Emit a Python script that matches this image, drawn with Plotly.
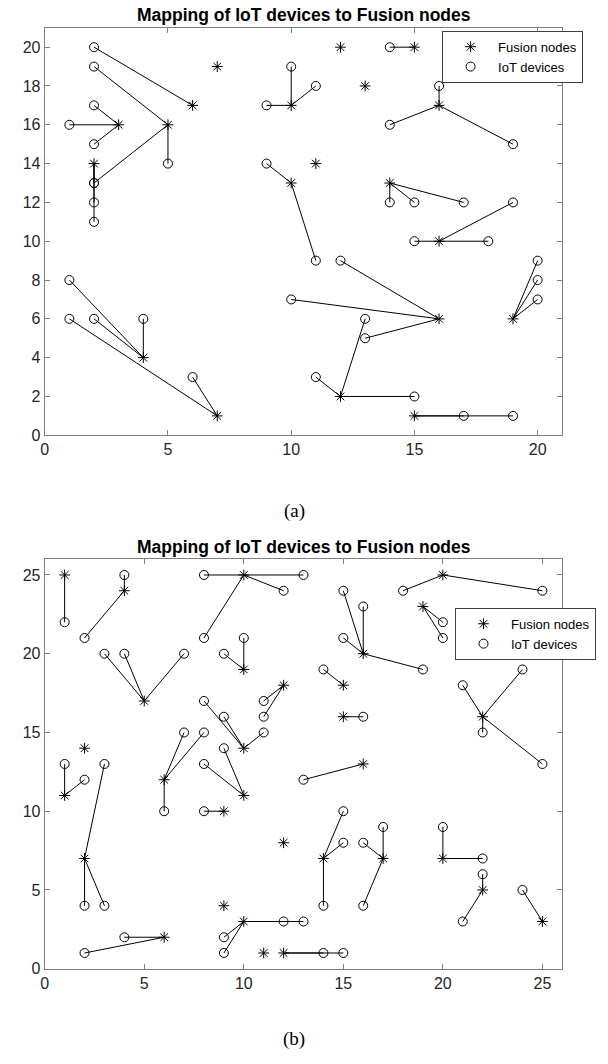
import plotly.graph_objects as go

# ---------------- Panel (a) data ----------------
a_fusion_x = [3, 5, 6, 2, 7, 10, 12, 15, 13, 16, 11, 10, 14, 16, 16, 19, 12, 15, 4, 7]
a_fusion_y = [16, 16, 17, 14, 19, 17, 20, 20, 18, 17, 14, 13, 13, 10, 6, 6, 2, 1, 4, 1]

a_iot_x = [1, 2, 2, 2, 2, 5, 2, 2, 2, 2, 9, 10, 11, 14, 16, 14, 19, 9, 11,
           14, 15, 17, 15, 18, 19, 12, 10, 13, 20, 20, 20, 11, 13, 15, 17, 19,
           1, 2, 4, 1, 6]
a_iot_y = [16, 17, 15, 19, 13, 14, 20, 13, 12, 11, 17, 19, 18, 20, 18, 16, 15, 14, 9,
           12, 12, 12, 10, 10, 12, 9, 7, 5, 9, 8, 7, 3, 6, 2, 1, 1,
           8, 6, 6, 6, 3]
a_iot_node = [0, 0, 0, 1, 1, 1, 2, 3, 3, 3, 5, 5, 5, 7, 9, 9, 9, 11, 11,
              12, 12, 12, 13, 13, 13, 14, 14, 14, 15, 15, 15, 16, 16, 16, 17, 17,
              18, 18, 18, 19, 19]

# ---------------- Panel (b) data ----------------
b_fusion_x = [1, 4, 10, 20, 19, 16, 5, 10, 12, 15, 15, 22, 10, 6, 10, 2, 1, 2, 9, 16,
              12, 14, 17, 20, 22, 25, 9, 6, 10, 11, 12]
b_fusion_y = [25, 24, 25, 25, 23, 20, 17, 19, 18, 18, 16, 16, 14, 12, 11, 14, 11, 7, 10, 13,
              8, 7, 7, 7, 5, 3, 4, 2, 3, 1, 1]

b_iot_x = [1, 4, 2, 8, 13, 12, 8, 18, 25, 20, 20, 16, 15, 15, 19, 3, 4, 7, 9, 10,
           11, 11, 14, 16, 21, 24, 22, 25, 8, 9, 11, 7, 8, 6, 8, 9, 1, 2, 3, 2, 3,
           8, 13, 15, 15, 14, 17, 16, 16, 20, 22, 22, 21, 24, 4, 2, 9, 9, 12, 13, 14, 15]
b_iot_y = [22, 25, 21, 25, 25, 24, 21, 24, 24, 22, 21, 23, 24, 21, 19, 20, 20, 20, 20, 21,
           17, 16, 19, 16, 18, 19, 15, 13, 17, 16, 15, 15, 15, 10, 13, 14, 13, 12, 13, 4, 4,
           10, 12, 10, 8, 4, 9, 8, 4, 9, 7, 6, 3, 5, 2, 1, 2, 1, 3, 3, 1, 1]
b_iot_node = [0, 1, 1, 2, 2, 2, 2, 3, 3, 4, 4, 5, 5, 5, 5, 6, 6, 6, 7, 7,
              8, 8, 9, 10, 11, 11, 11, 11, 12, 12, 12, 13, 13, 13, 14, 14, 16, 16, 17, 17, 17,
              18, 19, 21, 21, 21, 22, 22, 22, 23, 23, 24, 24, 25, 27, 27, 28, 28, 28, 28, 30, 30]

TITLE = "Mapping of IoT devices to Fusion nodes"
LEGEND_NAMES = ["Fusion nodes", "IoT devices"]
CAPTIONS = ["(a)", "(b)"]

W, H = 608, 1064
fig = go.Figure()


def link_coords(fx, fy, ix, iy, node):
    xs, ys = [], []
    for x, y, n in zip(ix, iy, node):
        xs += [fx[n], x, None]
        ys += [fy[n], y, None]
    return xs, ys


panels = [
    (a_fusion_x, a_fusion_y, a_iot_x, a_iot_y, a_iot_node, "x", "y", "legend"),
    (b_fusion_x, b_fusion_y, b_iot_x, b_iot_y, b_iot_node, "x2", "y2", "legend2"),
]

for fx, fy, ix, iy, node, xa, ya, lg in panels:
    lx, ly = link_coords(fx, fy, ix, iy, node)
    fig.add_trace(go.Scatter(x=lx, y=ly, mode="lines", xaxis=xa, yaxis=ya,
                             line=dict(color="black", width=1), showlegend=False,
                             hoverinfo="skip"))
    fig.add_trace(go.Scatter(x=fx, y=fy, mode="markers", name=LEGEND_NAMES[0],
                             xaxis=xa, yaxis=ya, legend=lg,
                             marker=dict(symbol="asterisk-open", size=9, color="black",
                                         line=dict(color="black", width=1))))
    fig.add_trace(go.Scatter(x=ix, y=iy, mode="markers", name=LEGEND_NAMES[1],
                             xaxis=xa, yaxis=ya, legend=lg,
                             marker=dict(symbol="circle-open", size=9, color="black",
                                         line=dict(color="black", width=1))))

xdom = [41 / W, 562 / W]
ya_dom = [1 - 439 / H, 1 - 28 / H]
yb_dom = [1 - 977 / H, 1 - 564 / H]

axis_common = dict(showline=True, linecolor="#7f7f7f", linewidth=1, mirror="ticks",
                   ticks="inside", ticklen=5, tickcolor="#7f7f7f", showgrid=False,
                   zeroline=False, tickfont=dict(family="Arial, Liberation Sans", size=16,
                                                 color="#262626"))

legend_common = dict(xanchor="left", yanchor="top", bgcolor="white",
                     bordercolor="#404040", borderwidth=1,
                     font=dict(family="Arial, Liberation Sans", size=13, color="black"),
                     itemwidth=45, tracegroupgap=0)

fig.update_layout(
    width=W, height=H, margin=dict(l=0, r=0, t=0, b=0),
    paper_bgcolor="white", plot_bgcolor="white",
    xaxis=dict(domain=xdom, range=[0, 21], tickvals=[0, 5, 10, 15, 20],
               anchor="y", **axis_common),
    yaxis=dict(domain=ya_dom, range=[0, 21], tickvals=list(range(0, 21, 2)),
               anchor="x", **axis_common),
    xaxis2=dict(domain=xdom, range=[0, 26], tickvals=[0, 5, 10, 15, 20, 25],
                anchor="y2", **axis_common),
    yaxis2=dict(domain=yb_dom, range=[0, 26], tickvals=[0, 5, 10, 15, 20, 25],
                anchor="x2", **axis_common),
    legend=dict(x=441 / W, y=1 - 31 / H, **legend_common),
    legend2=dict(x=454 / W, y=1 - 613 / H, **legend_common),
    showlegend=True,
)

title_font = dict(family="Arial, Liberation Sans", size=17.5, color="black")
for ycen in [15, 552]:
    fig.add_annotation(text="<b>" + TITLE + "</b>", xref="paper", yref="paper",
                       x=(41 + 562) / 2 / W, y=1 - ycen / H, showarrow=False,
                       xanchor="center", yanchor="middle", font=title_font)

cap_font = dict(family="Times New Roman, Liberation Serif", size=19, color="black")
for cap, ycen in zip(CAPTIONS, [515, 1048]):
    fig.add_annotation(text=cap, xref="paper", yref="paper", x=292 / W, y=1 - ycen / H,
                       showarrow=False, xanchor="center", yanchor="middle", font=cap_font)

fig.write_html("out.html", config={"displayModeBar": False},
               post_script="document.body.style.margin='0';document.body.style.overflow='hidden';")
